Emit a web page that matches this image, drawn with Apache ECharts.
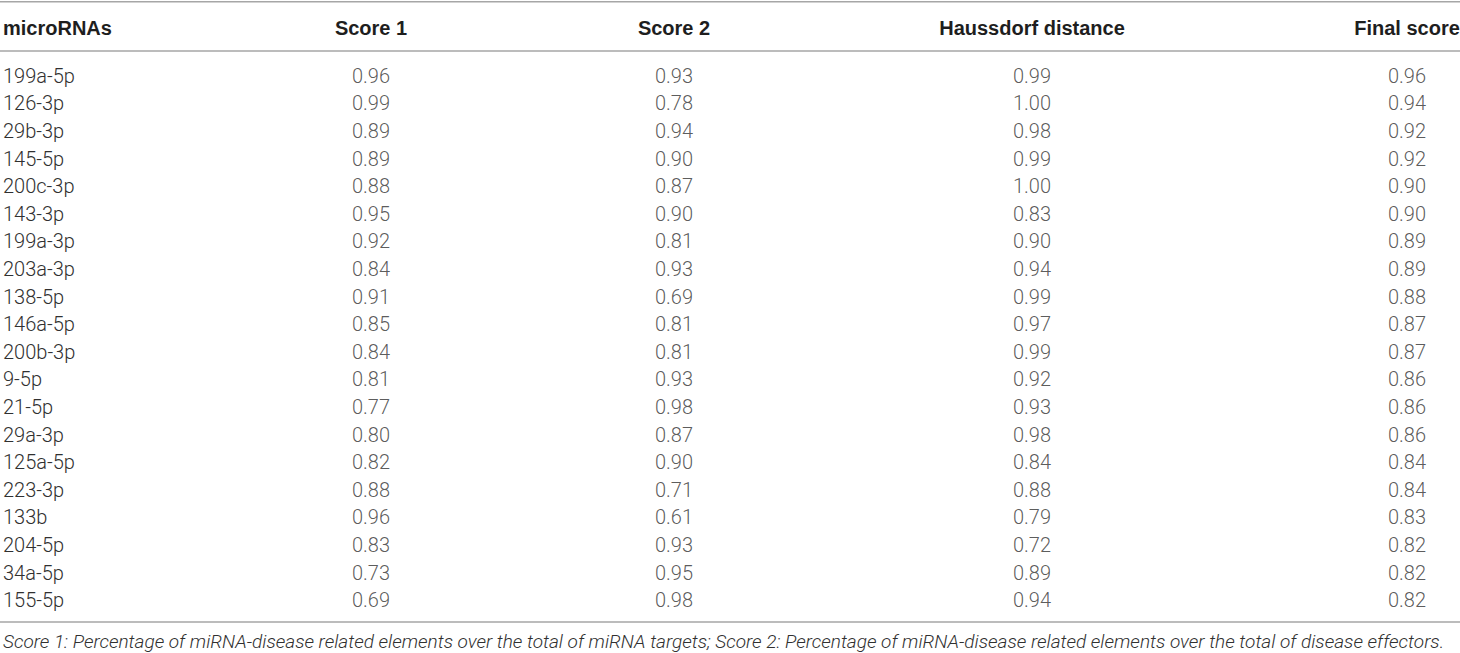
<!DOCTYPE html>
<html>
<head>
<meta charset="utf-8">
<script src="https://cdn.jsdelivr.net/npm/echarts@6/dist/echarts.min.js"></script>
<style>
  html, body { margin: 0; padding: 0; background: #fff; }
  #table { width: 1460px; height: 653px; }
</style>
</head>
<body>
<div id="table"></div>
<script>
// table contents
const headers = ['microRNAs', 'Score 1', 'Score 2', 'Haussdorf distance', 'Final score']
const mirnas = ['199a-5p', '126-3p', '29b-3p', '145-5p', '200c-3p', '143-3p', '199a-3p', '203a-3p', '138-5p', '146a-5p',
                '200b-3p', '9-5p', '21-5p', '29a-3p', '125a-5p', '223-3p', '133b', '204-5p', '34a-5p', '155-5p']
const score1 = [0.96, 0.99, 0.89, 0.89, 0.88, 0.95, 0.92, 0.84, 0.91, 0.85, 0.84, 0.81, 0.77, 0.80, 0.82, 0.88, 0.96, 0.83, 0.73, 0.69]
const score2 = [0.93, 0.78, 0.94, 0.90, 0.87, 0.90, 0.81, 0.93, 0.69, 0.81, 0.81, 0.93, 0.98, 0.87, 0.90, 0.71, 0.61, 0.93, 0.95, 0.98]
const haussdorf = [0.99, 1.00, 0.98, 0.99, 1.00, 0.83, 0.90, 0.94, 0.99, 0.97, 0.99, 0.92, 0.93, 0.98, 0.84, 0.88, 0.79, 0.72, 0.89, 0.94]
const finalScore = [0.96, 0.94, 0.92, 0.92, 0.90, 0.90, 0.89, 0.89, 0.88, 0.87, 0.87, 0.86, 0.86, 0.86, 0.84, 0.84, 0.83, 0.82, 0.82, 0.82]
const footnote = 'Score 1: Percentage of miRNA-disease related elements over the total of miRNA targets; ' +
                 'Score 2: Percentage of miRNA-disease related elements over the total of disease effectors.'

// layout
const colX = [371, 674, 1032, 1407]   // centre of each number column (x axis runs 0..1460 = pixels)
const ruleColor = '#a6a6a6'
const bodyFont = { fontFamily: 'Roboto', fontWeight: 300, fontSize: 20, color: '#303030' }
const headFont = { fontFamily: 'Liberation Sans', fontWeight: 'bold', fontSize: 20, fill: '#1e1e1e' }

const chart = echarts.init(document.getElementById('table'), null, { renderer: 'svg' })

const columnSeries = (values, k) => ({
    type: 'scatter',
    symbolSize: 0,
    silent: true,
    animation: false,
    data: values.map((v, i) => ({ value: [colX[k], i, v] })),
    label: {
        show: true,
        position: 'inside',
        formatter: p => p.value[2].toFixed(2),
        ...bodyFont
    }
})

const headerTexts = headers.map((h, k) => ({
    type: 'text',
    x: k === 0 ? 3 : colX[k - 1],
    y: 28,
    style: {
        text: h,
        ...headFont,
        align: k === 0 ? 'left' : 'center',
        verticalAlign: 'middle'
    }
}))

chart.setOption({
    animation: false,
    grid: { left: 0, right: 0, top: 62, bottom: 39 },
    xAxis: [
        {
            type: 'value', min: 0, max: 1460, position: 'top', offset: 11,
            axisLine: { show: true, lineStyle: { color: ruleColor, width: 1.5 } },
            axisTick: { show: false }, axisLabel: { show: false }, splitLine: { show: false }
        },
        {
            type: 'value', min: 0, max: 1460, position: 'bottom', offset: 8,
            axisLine: { show: true, lineStyle: { color: ruleColor, width: 1.5 } },
            axisTick: { show: false }, axisLabel: { show: false }, splitLine: { show: false }
        }
    ],
    yAxis: {
        type: 'category',
        data: mirnas,
        inverse: true,
        axisLine: { show: false },
        axisTick: { show: false },
        splitLine: { show: false },
        axisLabel: { inside: true, margin: 3, align: 'left', ...bodyFont }
    },
    series: [score1, score2, haussdorf, finalScore].map(columnSeries),
    graphic: [
        { type: 'rect', shape: { x: 0, y: 1, width: 1460, height: 1.5 }, style: { fill: ruleColor }, silent: true },
        ...headerTexts,
        {
            type: 'text', x: 3, y: 641,
            style: {
                text: footnote, fontFamily: 'Roboto', fontWeight: 300, fontStyle: 'italic',
                fontSize: 19, fill: '#303030', verticalAlign: 'middle'
            }
        }
    ]
})
</script>
</body>
</html>
